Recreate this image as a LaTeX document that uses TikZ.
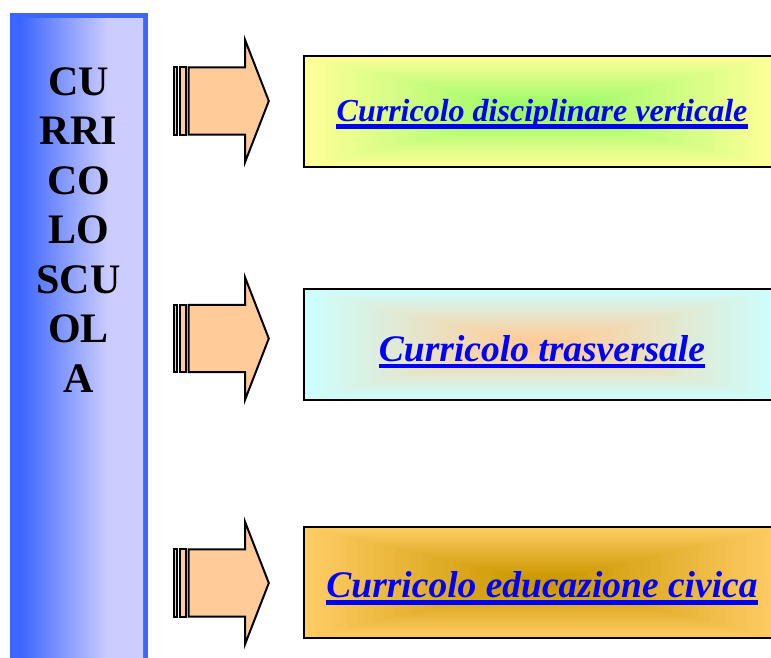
\documentclass[tikz,border=0pt]{standalone}
\usepackage{fontspec}
\setmainfont{Liberation Serif}

\definecolor{barblue}{RGB}{60,102,255}
\definecolor{barlav}{RGB}{204,204,255}
\definecolor{arrowfill}{RGB}{255,204,153}
\definecolor{linkblue}{RGB}{0,0,255}
\definecolor{boxAout}{RGB}{255,255,153}
\definecolor{boxAin}{RGB}{153,250,102}
\definecolor{boxBout}{RGB}{204,255,255}
\definecolor{boxBin}{RGB}{255,204,153}
\definecolor{boxCout}{RGB}{255,204,102}
\definecolor{boxCin}{RGB}{204,153,0}

\pgfdeclarehorizontalshading{barshade}{100bp}{color(0bp)=(barblue); color(29bp)=(barblue);
  color(45bp)=(barblue!50!barlav); color(62bp)=(barlav); color(100bp)=(barlav)}

\tikzset{
  bartext/.style={font=\bfseries\fontsize{42}{42}\selectfont, anchor=base, inner sep=0pt},
  linktext/.style={font=\bfseries\itshape\fontsize{#1}{#1}\selectfont, text=linkblue,
    anchor=base, inner sep=0pt},
  blockarrow/.style={draw=black, line width=2pt, fill=arrowfill, line join=miter},
  boxframe/.style={draw=black, line width=2pt},
}

\begin{document}
\begin{tikzpicture}[x=1pt,y=-1pt]
  \useasboundingbox (0,0) rectangle (771,657);
  \clip (0,0) rectangle (771,657);

  % side bar
  \fill[barblue] (10,13) rectangle (148,660);
  \shade[shading=barshade] (10,18) rectangle (143,660);
  \foreach \w [count=\i] in {CU,RRI,CO,LO,SCU,OL,A}
    \node[bartext] (bar\i) at (78.5,{95+49.5*(\i-1)}) {\w};

  % arrows
  \foreach \yc [count=\i] in {101,338.5,583}{
    \draw[blockarrow] (174.3,\yc-33.6) rectangle (177.3,\yc+33.6);
    \draw[blockarrow] (180.2,\yc-33.6) rectangle (185.8,\yc+33.6);
    \draw[blockarrow] (188.7,\yc-33.6) -- (245,\yc-33.6) -- (245,\yc-61.3)
      -- (268.8,\yc) -- (245,\yc+61.3) -- (245,\yc+33.6) -- (188.7,\yc+33.6) -- cycle;
  }

  % boxes
  \foreach \yc/\bl/\cin/\cout/\fs/\txt [count=\i] in {
      111.5/121.7/boxAin/boxAout/32/Curricolo disciplinare verticale,
      344.3/361/boxBin/boxBout/37.5/Curricolo trasversale,
      582.5/597.7/boxCin/boxCout/37.5/Curricolo educazione civica}{
    \fill[\cout] (304,\yc-55.5) rectangle (779,\yc+55.5);
    \foreach \k [evaluate=\k as \pct using \k*2.5,
                 evaluate=\k as \sc using 1-\k*0.0225] in {0,...,40}
      \fill[\cin!\pct!\cout] (541.5-237.5*\sc,\yc-55.5*\sc) rectangle (541.5+237.5*\sc,\yc+55.5*\sc);
    \draw[boxframe] (304,\yc-55.5) rectangle (779,\yc+55.5);
    \node[linktext=\fs] (link\i) at (542,\bl) {\txt};
    \draw[linkblue, line width=4.5pt] ([yshift=-4.8pt]link\i.base west) -- ([yshift=-4.8pt]link\i.base east);
  }
\end{tikzpicture}
\end{document}
